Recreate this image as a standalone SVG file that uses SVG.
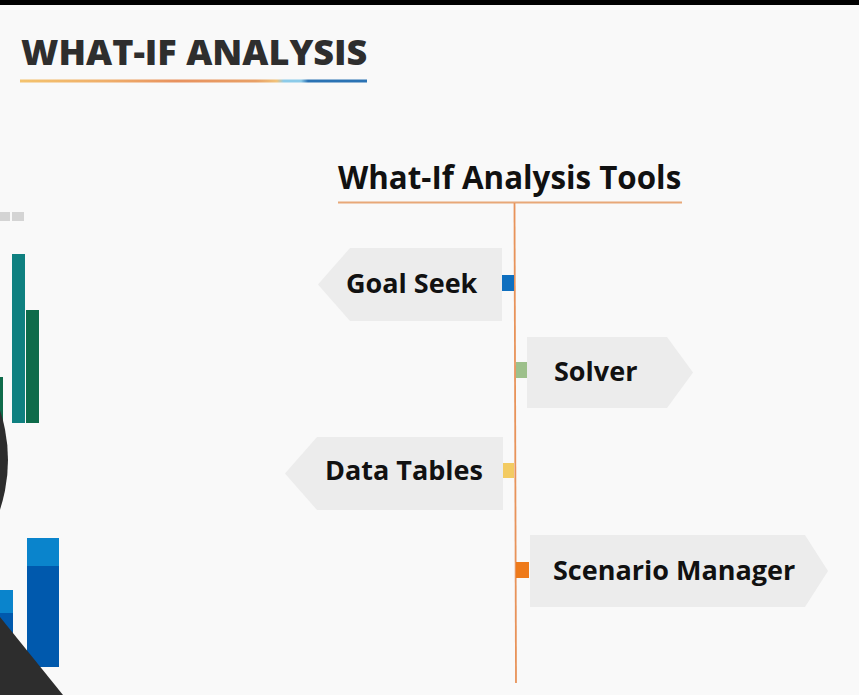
<svg xmlns="http://www.w3.org/2000/svg" width="859" height="695" viewBox="0 0 859 695">
<defs>
<style>
.lbl{font-family:"Open Sans","Liberation Sans",sans-serif;font-weight:700;font-size:27px;fill:#111}
.box{fill:#ececec}
</style>
<linearGradient id="ul" x1="20" y1="0" x2="367" y2="0" gradientUnits="userSpaceOnUse">
<stop offset="0" stop-color="#f4c36e"/>
<stop offset="0.25" stop-color="#efae6a"/>
<stop offset="0.45" stop-color="#e8925f"/>
<stop offset="0.68" stop-color="#e8a066"/>
<stop offset="0.74" stop-color="#f1c37a"/>
<stop offset="0.76" stop-color="#8ccbe9"/>
<stop offset="0.81" stop-color="#8ccbe9"/>
<stop offset="0.83" stop-color="#2b73b4"/>
<stop offset="1" stop-color="#2b73b4"/>
</linearGradient>
</defs>
<rect width="859" height="695" fill="#f9f9f9"/>
<rect width="859" height="5" fill="#000"/>
<g id="decor">
<rect x="0" y="212" width="10" height="9" fill="#d4d4d4"/>
<rect x="12" y="212" width="12" height="9" fill="#d4d4d4"/>
<rect x="12" y="254" width="13" height="169" fill="#0f8080"/>
<rect x="26" y="310" width="13" height="113" fill="#0e6b4a"/>
<rect x="0" y="377" width="3" height="46" fill="#0e6b4a"/>
<circle cx="-150" cy="460" r="158" fill="#2d2d2d"/>
<rect x="27" y="538" width="32" height="129" fill="#0059ad"/>
<rect x="27" y="538" width="32" height="28" fill="#0a84cc"/>
<rect x="0" y="590" width="13" height="80" fill="#0059ad"/>
<rect x="0" y="590" width="13" height="23" fill="#0a84cc"/>
<polygon points="0,617 63,695 0,695" fill="#2d2d2d"/>
</g>
<g id="title">
<text x="21" y="65" font-family="'Open Sans','Liberation Sans',sans-serif" font-weight="800" font-size="36" fill="#2e2e2e">WHAT-IF ANALYSIS</text>
<rect x="20" y="79.5" width="347" height="3" fill="url(#ul)"/>
</g>
<g id="subtitle">
<text x="338" y="189" font-family="'Open Sans','Liberation Sans',sans-serif" font-weight="700" font-size="31.3" fill="#111">What-If Analysis Tools</text>
</g>
<g id="connectors">
<line x1="338" y1="202.5" x2="682" y2="202.5" stroke="#e8a878" stroke-width="2"/>
<line x1="514.5" y1="203" x2="516" y2="683" stroke="#e8935a" stroke-width="1.8"/>
</g>
<g id="goal-seek">
<polygon class="box" points="350,248 502,248 502,321 350,321 318,284.5"/>
<rect x="502" y="275" width="12" height="16" fill="#0f6fbf"/>
<text class="lbl" x="346" y="293">Goal Seek</text>
</g>
<g id="solver">
<polygon class="box" points="527,337 667,337 693,372.5 667,408 527,408"/>
<rect x="516" y="362" width="11" height="16" fill="#9dc08b"/>
<text class="lbl" x="554" y="381">Solver</text>
</g>
<g id="data-tables">
<polygon class="box" points="317,437 503,437 503,510 317,510 285,473.5"/>
<rect x="503" y="463" width="11" height="15" fill="#f3cb62"/>
<text class="lbl" x="325" y="480">Data Tables</text>
</g>
<g id="scenario-manager">
<polygon class="box" points="530,535 805,535 828,571 805,607 530,607"/>
<rect x="516" y="562" width="13" height="16" fill="#ee7a1a"/>
<text class="lbl" x="553" y="580">Scenario Manager</text>
</g>
</svg>
